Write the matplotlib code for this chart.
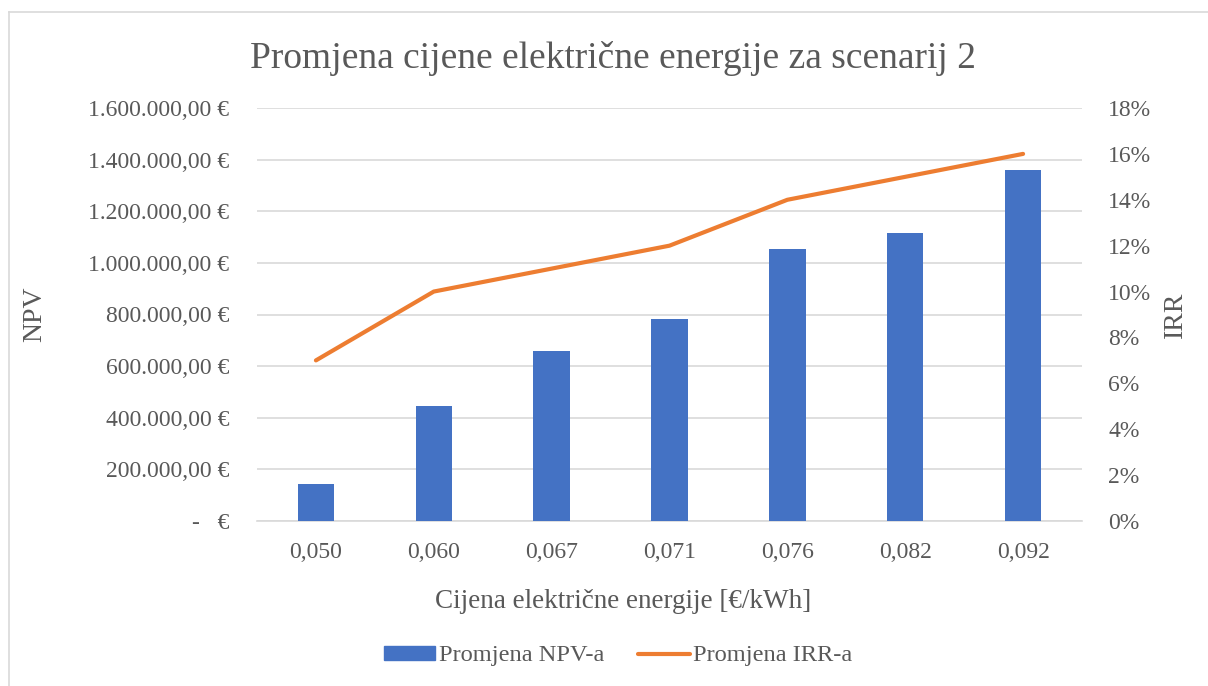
import matplotlib.pyplot as plt
import matplotlib.ticker as mticker
import numpy as np
from matplotlib.lines import Line2D
from matplotlib.patches import Patch

prices = ["0,050", "0,060", "0,067", "0,071", "0,076", "0,082", "0,092"]
npv = [143000, 446000, 659000, 784000, 1054000, 1116000, 1358000]
irr = [7, 10, 11, 12, 14, 15, 16]

BLUE = "#4472C4"
ORANGE = "#ED7D31"
GRAY = "#595959"
GRID = "#D9D9D9"

plt.rcParams["font.family"] = ["Liberation Serif", "DejaVu Serif"]

fig = plt.figure(figsize=(12.08, 6.86), dpi=100)
ax = fig.add_axes([257 / 1208, 1 - 521 / 686, 825 / 1208, 413 / 686])
ax2 = ax.twinx()

x = np.arange(len(prices))
ax.bar(x, npv, width=0.31, color=BLUE, zorder=3)
ax2.plot(x, irr, color=ORANGE, lw=3, solid_capstyle="round", zorder=4)

ax.set_xlim(-0.5, len(prices) - 0.5)
ax.set_ylim(0, 1600000)
ax2.set_ylim(0, 18)
ax.set_yticks(np.arange(0, 1600001, 200000))
ax2.set_yticks(np.arange(0, 19, 2))


def eur(v, pos):
    if v == 0:
        return "-   €"
    s = f"{v:,.2f}".replace(",", "X").replace(".", ",").replace("X", ".")
    return s + " €"


ax.yaxis.set_major_formatter(mticker.FuncFormatter(eur))
ax2.yaxis.set_major_formatter(mticker.FuncFormatter(lambda v, p: f"{v:.0f}%"))
ax.set_xticks(x)
ax.set_xticklabels(prices)

ax.grid(axis="y", color=GRID, lw=1.2, zorder=0)
ax.set_axisbelow(True)
for a in (ax, ax2):
    for sp in a.spines.values():
        sp.set_visible(False)
    a.tick_params(length=0, labelsize=17, colors=GRAY)
ax.spines["bottom"].set_visible(True)
ax.spines["bottom"].set_color(GRID)
ax.spines["bottom"].set_linewidth(1.2)
ax.tick_params(axis="y", pad=20)
ax.tick_params(axis="x", pad=15)
ax2.tick_params(axis="y", pad=19)

ax.set_ylabel("NPV", fontsize=20, color=GRAY)
ax.yaxis.set_label_coords((35 - 257) / 825, 0.5)
ax2.set_ylabel("IRR", fontsize=20, color=GRAY)
ax2.yaxis.set_label_coords((1175 - 257) / 825, 0.5)
ax.set_xlabel("Cijena električne energije [€/kWh]", fontsize=19.5, color=GRAY)
ax.xaxis.set_label_coords((623 - 257) / 825, -(602 - 521) / 413)
ax.xaxis.label.set_va("center")
ax.yaxis.label.set_va("center")
ax2.yaxis.label.set_va("center")

fig.text(613 / 1208, 1 - 58 / 686, "Promjena cijene električne energije za scenarij 2",
         fontsize=27, color=GRAY, ha="center", va="center")

handles = [Patch(color=BLUE), Line2D([0], [0], color=ORANGE, lw=3, solid_capstyle="round")]
fig.legend(handles, ["Promjena NPV-a", "Promjena IRR-a"], loc="center",
           bbox_to_anchor=(618 / 1208, 1 - 656 / 686), ncol=2, frameon=False,
           fontsize=17.6, labelcolor=GRAY, handlelength=2.1, handleheight=0.5,
           handletextpad=0.15, columnspacing=1.4)

# chart border (left and top edges visible)
fig.add_artist(Line2D([9 / 1208, 9 / 1208], [0, 1 - 12 / 686], color=GRID, lw=1.2))
fig.add_artist(Line2D([9 / 1208, 1], [1 - 12 / 686, 1 - 12 / 686], color=GRID, lw=1.2))

fig.savefig("out.png", dpi=100)
